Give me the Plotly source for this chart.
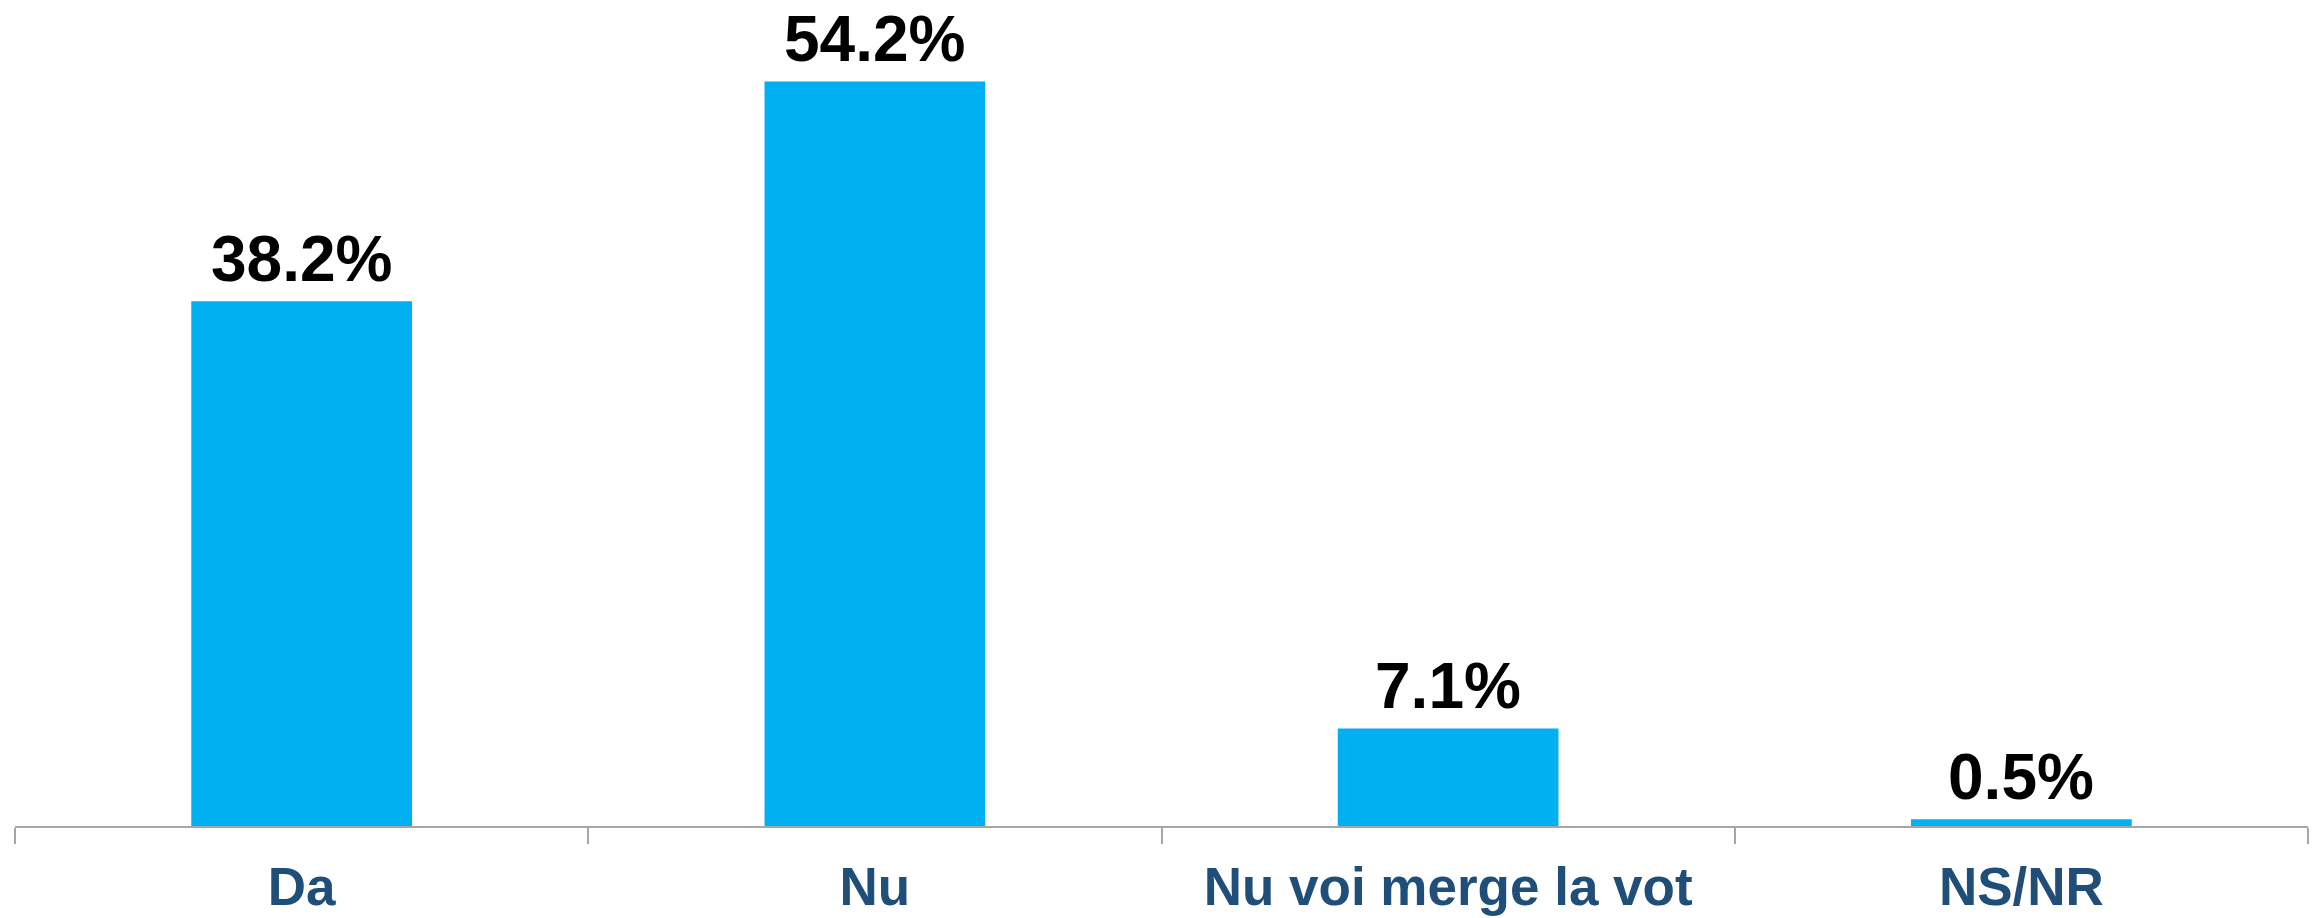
import plotly.graph_objects as go

categories = ["Da", "Nu", "Nu voi merge la vot", "NS/NR"]
values = [38.2, 54.2, 7.1, 0.5]
labels = ["38.2%", "54.2%", "7.1%", "0.5%"]

FONT = "Liberation Sans, Arial, sans-serif"

fig = go.Figure(go.Bar(
    x=categories, y=values, cliponaxis=False,
    marker=dict(color="#00B0F0", line=dict(width=0)),
    width=0.385,
))

for c, v, t in zip(categories, values, labels):
    fig.add_annotation(
        x=c, y=v, xref="x", yref="y", text=t, showarrow=False,
        yanchor="bottom", xanchor="center", yshift=4,
        font=dict(family=FONT, size=64, color="#000000", weight="bold"),
    )

fig.update_layout(
    width=2323, height=918,
    margin=dict(l=7, r=23, t=0, b=100, autoexpand=False),
    paper_bgcolor="white", plot_bgcolor="white",
    showlegend=False,
    font=dict(family=FONT),
)
fig.update_xaxes(
    type="category", showline=True, linecolor="#A6A6A6", linewidth=2,
    ticks="outside", tickson="boundaries", ticklen=16, tickcolor="#A6A6A6", tickwidth=2,
    tickfont=dict(size=53, color="#1F4E79", family=FONT, weight="bold"),
    showgrid=False, automargin=False, ticklabelstandoff=13,
)
fig.update_yaxes(range=[0, 59.55], visible=False, showgrid=False, automargin=False)

fig.write_html("out.html")
